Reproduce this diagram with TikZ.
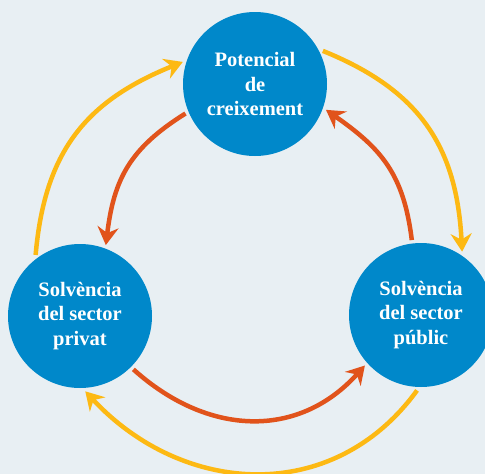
\documentclass[tikz,border=0pt]{standalone}
\usepackage{fontspec}
\setmainfont{Liberation Serif}
\usetikzlibrary{arrows.meta}
\definecolor{bgcol}{HTML}{E8EFF3}
\definecolor{discblue}{HTML}{0088CA}
\definecolor{sunyellow}{HTML}{FDB913}
\definecolor{rustred}{HTML}{E1531B}
\begin{document}
\begin{tikzpicture}[x=1pt,y=-1pt,
  disc/.style={circle, fill=discblue, minimum size=144pt, inner sep=0pt,
    outer sep=3.5pt, text=white, align=center,
    font=\fontsize{20.5}{24.5}\selectfont\bfseries},
  flow/.style={line width=4.5pt, looseness=1.1,
    -{Stealth[length=18pt,width=21pt,inset=6pt]}},
  outerflow/.style={flow, draw=sunyellow},
  innerflow/.style={flow, draw=rustred}]
  % canvas
  \fill[bgcol] (0,0) rectangle (485,474);
  \useasboundingbox (0,0) rectangle (485,474);
  \clip (0,0) rectangle (485,474);

  % the three states
  \node[disc] (pot) at (255,84) {Potencial\\de\\creixement};
  \node[disc] (priv) at (80,316) {Solvència\\del sector\\privat};
  \node[disc] (pub) at (421,315) {Solvència\\del sector\\públic};

  % outer cycle
  \draw[outerflow] (priv.126) to[out=85,in=-158] (pot.163);
  \draw[outerflow] (pot.26) to[out=-22,in=93] (pub.57);
  \draw[outerflow] (pub.267) to[out=-126,in=-47] (priv.274);

  % inner cycle
  \draw[innerflow] (pot.203) to[out=212,in=83] (priv.70);
  \draw[innerflow] (pub.97) to[out=97,in=-35] (pot.-20);
  \draw[innerflow] (priv.-45) to[out=-42,in=-132] (pub.222);
\end{tikzpicture}
\end{document}
